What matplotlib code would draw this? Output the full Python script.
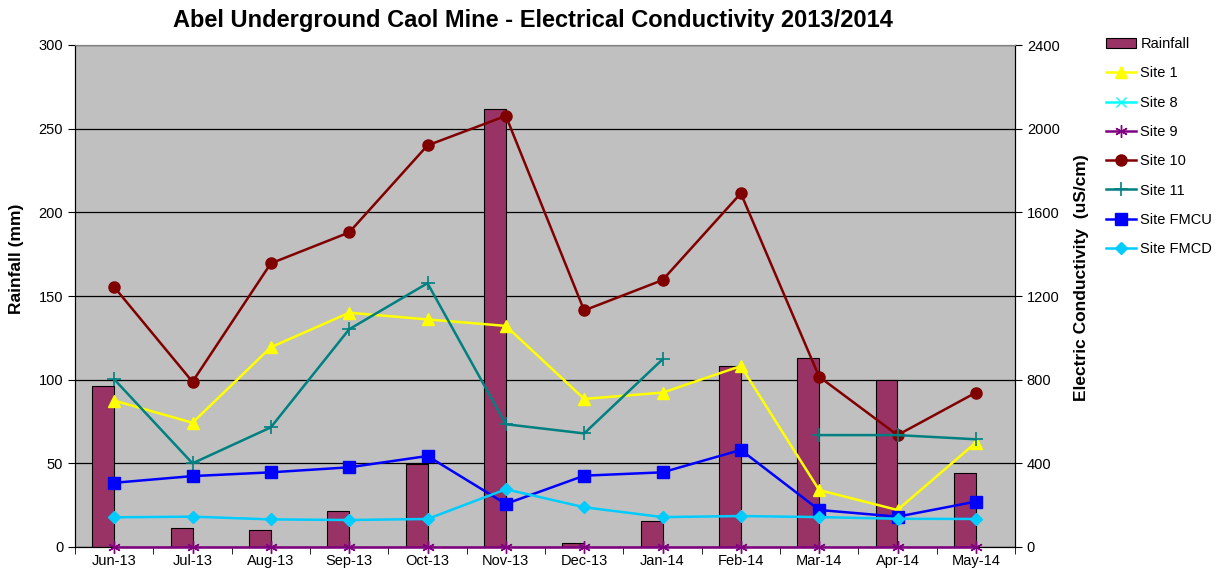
import numpy as np
import matplotlib
matplotlib.use("Agg")
import matplotlib.pyplot as plt
from matplotlib.ticker import FixedLocator

plt.rcParams['font.family'] = ['Liberation Sans', 'DejaVu Sans']

months = ["Jun-13", "Jul-13", "Aug-13", "Sep-13", "Oct-13", "Nov-13",
          "Dec-13", "Jan-14", "Feb-14", "Mar-14", "Apr-14", "May-14"]
rainfall = [96, 11.5, 10, 21.7, 49.6, 262, 2.6, 15.5, 108.4, 112.8, 99.8, 44.4]
site1 = [700, 594, 955, 1120, 1088, 1057, 708, 738, 865, 272, 177, 499]
site8 = [np.nan] * 12
site9 = [0] * 12
site10 = [1243, 790, 1356, 1504, 1920, 2061, 1131, 1276, 1691, 814, 535, 738]
site11 = [802, 400, 572, 1041, 1261, 587, 543, 897, np.nan, 535, 535, 515]
fmcu = [307, 339, 357, 381, 435, 206, 341, 357, 464, 177, 145, 217]
fmcd = [142, 145, 132, 129, 134, 276, 190, 143, 148, 143, 135, 134]

fig = plt.figure(figsize=(12.21, 5.76), dpi=100)
ax1 = fig.add_axes([75/1221, 1-547/576, 940/1221, 502/576])
ax1.set_facecolor('#C0C0C0')
x = np.arange(len(months))

bars = ax1.bar(x - 0.14, rainfall, width=0.28, color='#993366',
               edgecolor='black', linewidth=0.8, label='Rainfall', zorder=2)
ax1.set_ylim(0, 300)
ax1.set_yticks(np.arange(0, 301, 50))
ax1.yaxis.grid(True, color='black', linewidth=0.9, zorder=0)
ax1.set_axisbelow(True)
ax1.set_xlim(-0.5, len(months) - 0.5)
ax1.set_xticks(x)
ax1.set_xticklabels(months)
ax1.xaxis.set_minor_locator(FixedLocator(np.arange(-0.5, len(months), 1.0)))
ax1.tick_params(axis='x', which='major', length=0, labelsize=10.5, pad=5)
ax1.tick_params(axis='x', which='minor', length=5, direction='out')
ax1.tick_params(axis='y', labelsize=10.5, length=5, direction='out')
ax1.set_ylabel('Rainfall (mm)', fontsize=12.5, fontweight='bold')
ax1.yaxis.set_label_coords(-(75 - 24) / 940, (547 - 259) / 502)

ax2 = ax1.twinx()
ax2.set_ylim(0, 2400)
ax2.set_yticks(np.arange(0, 2401, 400))
ax2.tick_params(axis='y', labelsize=10.5, length=5, direction='out')
ax2.set_ylabel('Electric Conductivity  (uS/cm)', fontsize=12.5, fontweight='bold')
ax2.yaxis.set_label_coords(1 + (1074 - 1015) / 940, (547 - 278) / 502)

lw = 1.8
h1, = ax2.plot(x, site1, color='#FFFF00', marker='^', markersize=9, lw=lw, label='Site 1', clip_on=False)
h8, = ax2.plot(x, site8, color='#00FFFF', marker='x', markersize=7, lw=lw, label='Site 8', clip_on=False)
h9, = ax2.plot(x, site9, color='#800080', marker=(6, 2, 0), markersize=9, lw=lw, mew=1, label='Site 9', clip_on=False, zorder=5)
h10, = ax2.plot(x, site10, color='#800000', marker='o', markersize=8, lw=lw, label='Site 10', clip_on=False)
h11, = ax2.plot(x, site11, color='#008080', marker='+', markersize=10, mew=1.2, lw=lw, label='Site 11', clip_on=False)
hu, = ax2.plot(x, fmcu, color='#0000FF', marker='s', markersize=8, lw=lw, label='Site FMCU', clip_on=False)
hd, = ax2.plot(x, fmcd, color='#00CCFF', marker='D', markersize=6.5, lw=lw, label='Site FMCD', clip_on=False)

for ax in (ax1, ax2):
    ax.spines['top'].set_color('#808080')
    ax.spines['left'].set_color('black')
    ax.spines['right'].set_color('black')
    ax.spines['bottom'].set_color('black')

fig.text(533/1221, 1 - 20/576, 'Abel Underground Caol Mine - Electrical Conductivity 2013/2014',
         ha='center', va='center', fontsize=17, fontweight='bold')

handles = [bars, h1, h8, h9, h10, h11, hu, hd]
fig.legend(handles=handles, labels=[h.get_label() for h in handles],
           loc='upper left', bbox_to_anchor=(1106/1221, 1 - 37/576), frameon=False,
           borderpad=0, borderaxespad=0,
           fontsize=10.5, labelspacing=1.05, handlelength=2.05, handletextpad=0.3)

fig.savefig('out.png', dpi=100)
